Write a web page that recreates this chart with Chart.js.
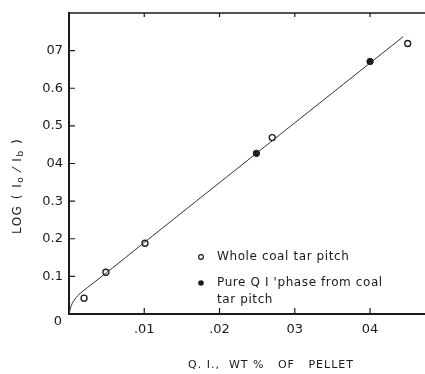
<!DOCTYPE html>
<html>
<head>
<meta charset="utf-8">
<script src="https://cdn.jsdelivr.net/npm/chart.js@4.4.1/dist/chart.umd.min.js"></script>
<style>
  html, body { margin: 0; padding: 0; background: #fff; }
  canvas { display: block; }
</style>
</head>
<body>
<canvas id="myChart" width="425" height="374"></canvas>
<script>
// data
var wholeX = [0.002, 0.0049, 0.0101, 0.027, 0.045];
var wholeY = [0.042, 0.111, 0.188, 0.469, 0.719];
var pureX = [0.0249, 0.040];
var pureY = [0.427, 0.671];
// drawn curve through the points
var fitX = [0, 0.0003, 0.0008, 0.0015, 0.0025, 0.005, 0.01, 0.0444];
var fitY = [0, 0.022, 0.04, 0.055, 0.071, 0.11, 0.19, 0.737];

var xTicks = [0.01, 0.02, 0.03, 0.04];
var xTickLabels = [".01", ".02", "03", "04"];
var yTicks = [0.1, 0.2, 0.3, 0.4, 0.5, 0.6, 0.7];
var yTickLabels = ["0.1", "0.2", "0.3", "04", "0.5", "0.6", "07"];

var legendItems = [
  { filled: false, lines: ["Whole coal tar pitch"] },
  { filled: true, lines: ["Pure Q I 'phase from coal", "tar pitch"] }
];
var xTitle = "Q. I.,  WT %   OF   PELLET";

var ink = "#1a1a1a";
var font = "'DejaVu Sans', sans-serif";

function pts(xs, ys) {
  var out = [];
  for (var i = 0; i < xs.length; i++) out.push({ x: xs[i], y: ys[i] });
  return out;
}

// ticks pointing inward, frame top, titles and legend
const extras = {
  id: "extras",
  afterDraw(chart) {
    const ctx = chart.ctx;
    const a = chart.chartArea;
    const xs = chart.scales.x;
    const ys = chart.scales.y;
    ctx.save();
    ctx.strokeStyle = ink;
    ctx.fillStyle = ink;

    // top frame
    ctx.lineWidth = 1.5;
    ctx.beginPath();
    ctx.moveTo(a.left, a.top);
    ctx.lineTo(a.right, a.top);
    ctx.stroke();

    ctx.lineWidth = 1.2;
    ctx.beginPath();
    xTicks.forEach(function (v) {
      var px = xs.getPixelForValue(v);
      ctx.moveTo(px, a.bottom);
      ctx.lineTo(px, a.bottom - 6);
      ctx.moveTo(px, a.top);
      ctx.lineTo(px, a.top + 4);
    });
    yTicks.forEach(function (v) {
      var py = ys.getPixelForValue(v);
      ctx.moveTo(a.left, py);
      ctx.lineTo(a.left + 6, py);
    });
    ctx.stroke();

    // origin label
    ctx.font = "13px " + font;
    ctx.textAlign = "center";
    ctx.textBaseline = "middle";
    ctx.fillText("0", a.left - 11, a.bottom + 8);

    // x title
    ctx.font = "11px " + font;
    ctx.letterSpacing = "1px";
    ctx.fillText(xTitle, 271, 365);

    // y title with subscripts
    ctx.save();
    ctx.translate(18, 186);
    ctx.rotate(-Math.PI / 2);
    ctx.letterSpacing = "1.5px";
    var parts = [["LOG ( I", 12, 0], ["o", 9, 3], [" \u2044 I", 12, 0], ["b", 9, 3], [" )", 12, 0]];
    var total = 0;
    parts.forEach(function (p) { ctx.font = p[1] + "px " + font; total += ctx.measureText(p[0]).width; });
    var cx = -total / 2;
    ctx.textAlign = "left";
    parts.forEach(function (p) {
      ctx.font = p[1] + "px " + font;
      ctx.fillText(p[0], cx, p[2]);
      cx += ctx.measureText(p[0]).width;
    });
    ctx.restore();

    // legend
    ctx.textAlign = "left";
    ctx.font = "12px " + font;
    ctx.letterSpacing = "0.6px";
    var ly = [257, 283];
    legendItems.forEach(function (it, i) {
      ctx.beginPath();
      ctx.arc(201, ly[i], it.filled ? 2.8 : 2.4, 0, Math.PI * 2);
      ctx.lineWidth = 1.2;
      if (it.filled) ctx.fill(); else ctx.stroke();
      it.lines.forEach(function (t, j) {
        ctx.fillText(t, 217, ly[i] + j * 17);
      });
    });
    ctx.restore();
  }
};

const ctx = document.getElementById("myChart");
const myChart = new Chart(ctx, {
  type: "scatter",
  data: {
    datasets: [
      {
        data: pts(fitX, fitY),
        showLine: true,
        borderColor: "#333",
        borderWidth: 1,
        pointRadius: 0,
        cubicInterpolationMode: "monotone"
      },
      {
        data: pts(wholeX, wholeY),
        pointRadius: 3,
        pointBorderWidth: 1.3,
        pointBorderColor: ink,
        pointBackgroundColor: "#fff"
      },
      {
        data: pts(pureX, pureY),
        pointRadius: 3.2,
        pointBorderWidth: 1,
        pointBorderColor: ink,
        pointBackgroundColor: ink
      }
    ]
  },
  options: {
    responsive: false,
    animation: false,
    devicePixelRatio: 1,
    layout: { autoPadding: false, padding: { top: 13, right: 0, left: 0, bottom: 0 } },
    plugins: { legend: { display: false }, tooltip: { enabled: false } },
    scales: {
      x: {
        type: "linear",
        min: 0,
        max: 0.0473,
        afterBuildTicks: function (s) { s.ticks = xTicks.map(function (v) { return { value: v }; }); },
        afterFit: function (s) { s.height = 60; s.paddingLeft = 0; s.paddingRight = 0; },
        grid: { drawOnChartArea: false, drawTicks: false },
        border: { display: true, color: ink, width: 2 },
        ticks: {
          padding: 8,
          color: ink,
          font: { family: font, size: 13 },
          maxRotation: 0,
          callback: function (v) { var i = xTicks.indexOf(v); return i < 0 ? "" : xTickLabels[i]; }
        }
      },
      y: {
        type: "linear",
        min: 0,
        max: 0.8,
        afterBuildTicks: function (s) { s.ticks = yTicks.map(function (v) { return { value: v }; }); },
        afterFit: function (s) { s.width = 69; s.paddingTop = 0; s.paddingBottom = 0; },
        grid: { drawOnChartArea: false, drawTicks: false },
        border: { display: true, color: ink, width: 2 },
        ticks: {
          padding: 6,
          color: ink,
          font: { family: font, size: 13 },
          callback: function (v) { var i = yTicks.indexOf(v); return i < 0 ? "" : yTickLabels[i]; }
        }
      }
    }
  },
  plugins: [extras]
});
</script>
</body>
</html>
